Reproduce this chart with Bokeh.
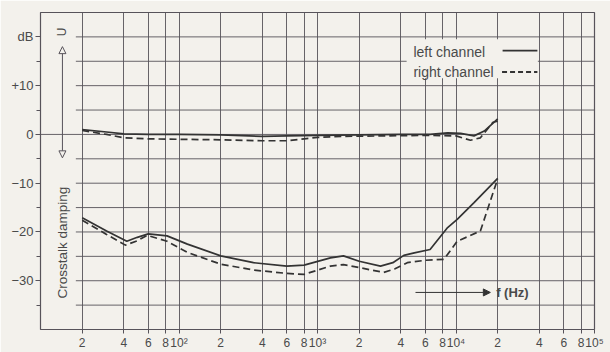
import math
from bokeh.plotting import figure
from bokeh.models import FixedTicker, Arrow, NormalHead
from bokeh.core.properties import value
from bokeh.embed import file_html
from bokeh.resources import INLINE

# ---------------- data ----------------
x_ticks = [20, 40, 60, 80, 100, 200, 400, 600, 800, 1000, 2000, 4000, 6000, 8000,
           10000, 20000, 40000, 60000, 80000, 100000]
x_tick_labels = ["2", "4", "6", "8", "10\u00b2", "2", "4", "6", "8", "10\u00b3",
                 "2", "4", "6", "8", "10\u2074", "2", "4", "6", "8", "10\u2075"]
y_ticks = [-30, -20, -10, 0, 10, 20]
y_tick_labels = ["\u221230", "\u221220", "\u221210", "0", "+10", "dB"]
y_minor_ticks = [-35, -25, -15, -5, 5, 15]
h_levels = [-35, -30, -25, -20, -15, -10, -5, 0, 5, 10, 15, 20]

# frequency response (upper curves)
f_left_upper = [20, 30, 40, 60, 100, 200, 400, 600, 1000, 2000, 4000, 6500, 8700,
                10800, 13500, 16000, 20000]
left_upper = [1.0, 0.5, 0.1, 0.0, 0.0, -0.1, -0.4, -0.3, -0.2, -0.1, 0.0, 0.0, 0.3,
              0.2, -0.3, 0.7, 3.2]
f_right_upper = [20, 30, 40, 60, 100, 200, 400, 600, 800, 1000, 1500, 3000, 6500,
                 10000, 12700, 15000, 18500, 20000]
right_upper = [0.8, 0.0, -0.7, -0.9, -1.0, -1.1, -1.3, -1.3, -0.9, -0.6, -0.4, -0.3,
               -0.2, -0.3, -1.2, -0.7, 2.5, 2.7]

# crosstalk damping (lower curves)
f_left_lower = [20, 30, 42, 50, 60, 82, 115, 200, 345, 600, 800, 1240, 1540, 2000,
                2850, 3500, 4200, 5000, 6500, 8700, 10200, 13500, 20000]
left_lower = [-17.1, -19.8, -21.9, -21.1, -20.4, -20.8, -22.5, -24.9, -26.3, -27.0,
              -26.8, -25.3, -24.9, -26.0, -27.0, -26.3, -24.8, -24.3, -23.6, -19.1,
              -17.4, -14.0, -9.0]
f_right_lower = [20, 30, 41, 50, 59, 82, 115, 200, 345, 600, 800, 1240, 1540, 2000,
                 3000, 3600, 4450, 6000, 8200, 10200, 12500, 15000, 20000]
right_lower = [-17.6, -20.5, -22.7, -21.8, -20.7, -21.9, -24.2, -26.6, -27.8, -28.5,
               -28.7, -27.0, -26.7, -27.3, -28.3, -27.6, -26.3, -25.8, -25.6, -21.9,
               -20.8, -19.8, -9.1]

# ---------------- styling ----------------
BG = "#f3f1ec"
GRID = "#57535a"
INK = "#333333"
TXT = "#4a4a4a"
FONT = "Liberation Sans"

p = figure(width=610, height=352, x_axis_type="log", x_range=(10, 1e5),
           y_range=(-40, 25), output_backend="svg", toolbar_location=None,
           min_border_left=40, min_border_right=16, min_border_top=12,
           min_border_bottom=21)
p.background_fill_color = BG
p.border_fill_color = BG
p.outline_line_color = GRID
p.outline_line_width = 1.2

# x axis
p.xaxis.ticker = FixedTicker(ticks=x_ticks, minor_ticks=[])
p.xaxis.major_label_overrides = dict(zip(x_ticks, x_tick_labels))
p.xaxis.axis_line_color = None
p.xaxis.major_tick_out = 4
p.xaxis.major_tick_in = 0
p.xaxis.major_tick_line_color = GRID
p.xaxis.major_label_text_font = FONT
p.xaxis.major_label_text_font_size = "12px"
p.xaxis.major_label_text_color = TXT
p.xaxis.major_label_standoff = 2

# y axis
p.yaxis.ticker = FixedTicker(ticks=y_ticks, minor_ticks=y_minor_ticks)
p.yaxis.major_label_overrides = dict(zip(y_ticks, y_tick_labels))
p.yaxis.axis_line_color = None
p.yaxis.major_tick_out = 5
p.yaxis.major_tick_in = 0
p.yaxis.minor_tick_out = 4
p.yaxis.minor_tick_in = 0
p.yaxis.major_tick_line_color = GRID
p.yaxis.minor_tick_line_color = GRID
p.yaxis.major_label_text_font = FONT
p.yaxis.major_label_text_font_size = "13px"
p.yaxis.major_label_text_color = TXT
p.yaxis.major_label_standoff = 2

# grid
p.ygrid.visible = False
p.xgrid.grid_line_color = GRID
p.xgrid.grid_line_width = 1
p.xgrid.grid_line_alpha = 0.9

x0s = [10 if lv == 0 else 18 for lv in h_levels]
p.segment(x0=x0s, y0=h_levels, x1=[1e5] * len(h_levels), y1=h_levels,
          line_color=GRID, line_width=1, line_alpha=0.9)

# legend background box (hides grid)
p.quad(left=[4400], right=[39000], bottom=[11.5], top=[19.5],
       fill_color=BG, line_color=None)

# curves
p.line(f_left_upper, left_upper, line_color=INK, line_width=1.7)
p.line(f_right_upper, right_upper, line_color=INK, line_width=1.7, line_dash="7 4")
p.line(f_left_lower, left_lower, line_color=INK, line_width=1.7)
p.line(f_right_lower, right_lower, line_color=INK, line_width=1.7, line_dash="7 4")

# legend
p.text(x=[4930, 4930], y=[17.0, 12.7], text=["left  channel", "right channel"],
       text_font=value(FONT), text_font_size="14px", text_color=TXT,
       text_align="left", text_baseline="middle")
p.line([21700, 38700], [17.2, 17.2], line_color=INK, line_width=1.8)
p.line([21500, 38700], [12.8, 12.8], line_color=INK, line_width=1.8, line_dash="5 3")

# vertical annotation column
p.add_layout(Arrow(start=NormalHead(size=7, fill_color=BG, line_color=GRID, line_width=1),
                   end=NormalHead(size=7, fill_color=BG, line_color=GRID, line_width=1),
                   x_start=14.4, y_start=-4.8, x_end=14.4, y_end=18.0,
                   line_color=GRID, line_width=1))
p.text(x=[14.4], y=[21.0], text=["U"], angle=math.pi / 2,
       text_font=value(FONT), text_font_size="12px", text_color=TXT,
       text_align="center", text_baseline="middle")
p.text(x=[14.4], y=[-22.2], text=["Crosstalk damping"], angle=math.pi / 2,
       text_font=value(FONT), text_font_size="13.5px", text_color=TXT,
       text_align="center", text_baseline="middle")

# frequency arrow
p.add_layout(Arrow(end=NormalHead(size=7, fill_color=INK, line_color=INK),
                   x_start=5100, y_start=-32.4, x_end=17700, y_end=-32.4,
                   line_color=INK, line_width=1))
p.text(x=[19500], y=[-32.4], text=["f (Hz)"],
       text_font=value(FONT), text_font_size="13px", text_font_style="bold",
       text_color=TXT, text_align="left", text_baseline="middle")

open("out.html", "w").write(file_html(p, INLINE))
